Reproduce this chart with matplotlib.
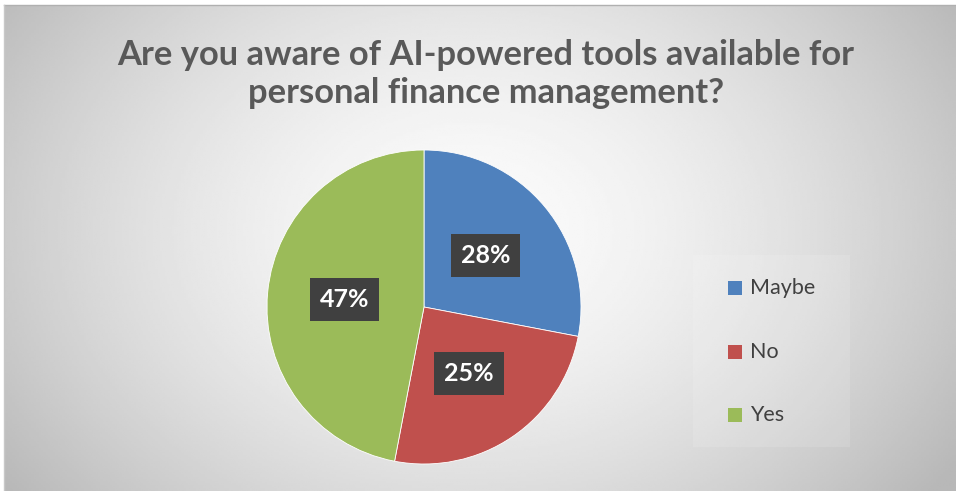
import numpy as np
import matplotlib.pyplot as plt
from matplotlib.patches import Rectangle

categories = ["Maybe", "No", "Yes"]
shares = [28, 25, 47]
colors = ["#4f81bd", "#c0504d", "#9bbb59"]
title = "Are you aware of AI-powered tools available for\npersonal finance management?"

W, H = 956, 491
fig = plt.figure(figsize=(W / 100, H / 100), dpi=100)
fig.patch.set_facecolor("white")

# radial gray gradient background of the chart area
bg = fig.add_axes([0, 0, 1, 1])
bg.set_xlim(0, W)
bg.set_ylim(H, 0)
bg.set_axis_off()
xx, yy = np.meshgrid(np.linspace(4, W, 400), np.linspace(5, H, 220))
r = np.sqrt(((xx - 470) / 560) ** 2 + ((yy - 230) / 420) ** 2)
val = np.clip(0.985 - 0.25 * r ** 1.6, 0.72, 1)
bg.imshow(val, cmap="gray", vmin=0, vmax=1, extent=(4, W, H, 5),
          aspect="auto", interpolation="bilinear", zorder=0)
bg.plot([4, W], [5, 5], color="#b0b0b0", lw=1, zorder=1)
bg.plot([4, 4], [5, H], color="#c8c8c8", lw=1, zorder=1)

# legend panel
bg.add_patch(Rectangle((693, 255), 157, 192, facecolor="white", alpha=0.12,
                       edgecolor="none", zorder=1))

fig.text(486 / W, 1 - 74 / H, title, ha="center", va="center",
         fontsize=24.8, fontweight="bold", color="#595959", family="Lato",
         linespacing=1.22)

# pie
cx, cy, rad = 424, 307, 157
ax = fig.add_axes([(cx - rad) / W, (H - cy - rad) / H, 2 * rad / W, 2 * rad / H])
wedges, _, autotexts = ax.pie(
    shares, colors=colors, startangle=90, counterclock=False,
    autopct=lambda p: f"{p:.0f}%", pctdistance=0.51,
    wedgeprops=dict(linewidth=0.6, edgecolor="white"),
    textprops=dict(color="white", fontsize=18, fontweight="bold", family="Lato"))
for t in autotexts:
    t.set_bbox(dict(boxstyle="square,pad=0.4", facecolor="#404040", edgecolor="none"))
ax.set_xlim(-1, 1)
ax.set_ylim(-1, 1)
ax.set_aspect("equal")

# legend
for i, (name, c) in enumerate(zip(categories, colors)):
    y = 288 + i * 63.5
    bg.add_patch(Rectangle((728, y - 7), 14, 14, facecolor=c, edgecolor="none", zorder=2))
    bg.text(750, y, name, ha="left", va="center", fontsize=15.5, color="#404040",
            family="Lato", zorder=2)

fig.savefig("out.png", dpi=100)
